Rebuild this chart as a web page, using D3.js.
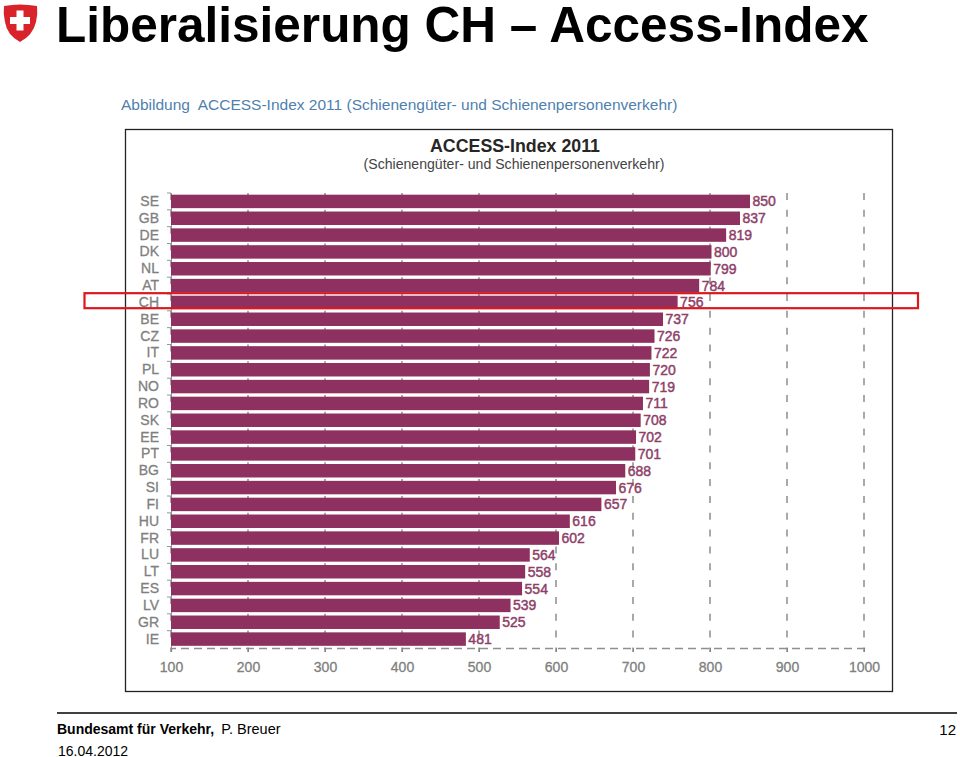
<!DOCTYPE html>
<html><head><meta charset="utf-8">
<script src="https://cdnjs.cloudflare.com/ajax/libs/d3/7.8.5/d3.min.js"></script>
<style>html,body{margin:0;padding:0;background:#fff}svg{display:block}text{font-family:"Liberation Sans",Arial,sans-serif}</style>
</head><body><svg id="c" width="960" height="757"></svg>
<script>
const countries=["SE","GB","DE","DK","NL","AT","CH","BE","CZ","IT","PL","NO","RO","SK","EE","PT","BG","SI","FI","HU","FR","LU","LT","ES","LV","GR","IE"];
const values=[850,837,819,800,799,784,756,737,726,722,720,719,711,708,702,701,688,676,657,616,602,564,558,554,539,525,481];
const xTicks=[100,200,300,400,500,600,700,800,900,1000];
const pageTitle="Liberalisierung CH – Access-Index";
const caption="Abbildung  ACCESS-Index 2011 (Schienengüter- und Schienenpersonenverkehr)";
const chartTitle="ACCESS-Index 2011";
const chartSubtitle="(Schienengüter- und Schienenpersonenverkehr)";
const highlighted="CH";

const svg=d3.select("#c");
const x=d3.scaleLinear().domain([100,1000]).range([171,864]);
const y=d3.scaleBand().domain(countries).range([193,647.5]).paddingInner(0.2).paddingOuter(0.1);
const txt=(t,px,py,size,fill,weight,anchor)=>svg.append("text").attr("x",px).attr("y",py).attr("font-size",size).attr("fill",fill).attr("font-weight",weight||"normal").attr("text-anchor",anchor||"start").style("white-space","pre").text(t);

const s=svg.append("g");
s.append("path").attr("fill","#d8232a").attr("d","M4 6 Q20 3 37 6 Q38 14 36 22 Q33 35 20 42 Q7 35 5 22 Q3 14 4 6Z");
s.append("path").attr("fill","#fff").attr("d","M16.5 10.5h7v6.5h6.5v7h-6.500v6.500h-7v-6.500h-6.500v-7h6.500z");

txt(pageTitle,56,42,49.500,"#000","bold");
txt(caption,121,109.500,15.500,"#4f7fae");

svg.append("rect").attr("x",125.500).attr("y",129.500).attr("width",767).attr("height",562).attr("fill","#fff").attr("stroke","#222").attr("stroke-width",1.300);
txt(chartTitle,515,152,17.800,"#262626","bold","middle");
txt(chartSubtitle,514,169,14.100,"#444","normal","middle");

const grid=svg.append("g");
grid.selectAll("line").data(xTicks).join("line").attr("x1",d=>x(d)).attr("x2",d=>x(d)).attr("y1",193).attr("y2",652)
 .attr("stroke","#858585").attr("stroke-width",1.400).attr("stroke-dasharray","7 9.83");

const gx=svg.append("g").attr("transform","translate(0,648)")
 .call(d3.axisBottom(x).tickValues(xTicks).tickSize(4).tickPadding(10).tickFormat(d3.format("d")));
gx.select(".domain").attr("stroke","#8f8f8f").attr("stroke-dasharray","8 5").attr("stroke-width",1.300);
gx.selectAll(".tick line").attr("stroke","#858585");
gx.selectAll("text").attr("font-size",14).attr("fill","#808080").attr("stroke","#808080").attr("stroke-width",0.3).style("font-family",'"Liberation Sans"');

const gy=svg.append("g").attr("transform","translate(171,0)")
 .call(d3.axisLeft(y).tickSize(0).tickPadding(12));
gy.select(".domain").attr("stroke","#8a9a9a").attr("stroke-width",1);
gy.selectAll("text").attr("font-size",14).attr("fill","#808080").attr("stroke","#808080").attr("stroke-width",0.3).style("font-family",'"Liberation Sans"');
gy.selectAll(".edge").data(countries).join("line").attr("class","edge")
 .attr("x1",-4).attr("x2",0).attr("y1",d=>y(d)-y.step()*0.1).attr("y2",d=>y(d)-y.step()*0.1).attr("stroke","#8a9a9a");

svg.append("g").selectAll("rect").data(countries).join("rect")
 .attr("x",x(100)).attr("y",d=>y(d)).attr("height",y.bandwidth())
 .attr("width",(d,i)=>x(values[i])-x(100)+1.500).attr("fill","#8e3060");
svg.append("g").selectAll("text").data(countries).join("text")
 .attr("x",(d,i)=>x(values[i])+4).attr("y",d=>y(d)+y.bandwidth()/2+5)
 .attr("font-size",14).attr("fill","#8e3f69").attr("stroke","#8e3f69").attr("stroke-width",0.45)
 .text((d,i)=>values[i]);

svg.append("rect").attr("x",84.500).attr("y",y(highlighted)-2.500).attr("width",833.500).attr("height",15)
 .attr("fill","none").attr("stroke","#d9181f").attr("stroke-width",2.200);

svg.append("line").attr("x1",57).attr("x2",957).attr("y1",713).attr("y2",713).attr("stroke","#000").attr("stroke-width",1.500);
const f=svg.append("text").attr("x",57).attr("y",734).attr("font-size",14).attr("fill","#000");
f.append("tspan").attr("font-weight","bold").text("Bundesamt für Verkehr,");
f.append("tspan").attr("dx",7).attr("font-size",14.500).text("P. Breuer");
txt("16.04.2012",58,755.500,14,"#000");
txt("12",956,735,15,"#000","normal","end");
</script></body></html>
